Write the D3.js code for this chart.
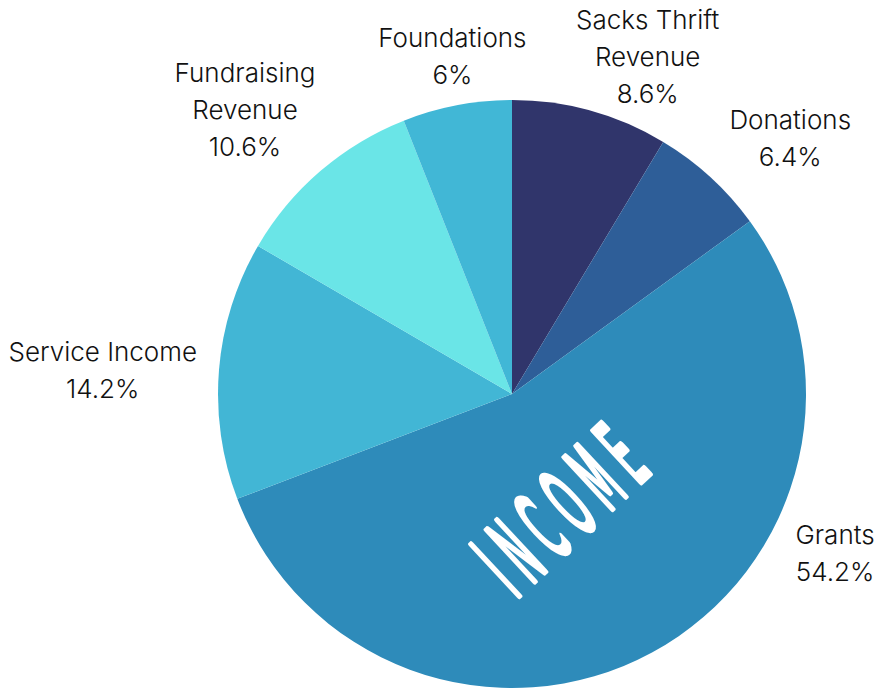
<!DOCTYPE html>
<html>
<head>
<meta charset="utf-8">
<script src="https://cdn.jsdelivr.net/npm/d3@7"></script>
<style>
  body { margin: 0; background: #ffffff; }
  svg { display: block; }
  .label { font-family: Inter, "Noto Sans", sans-serif; font-size: 26px; font-weight: 300; fill: #111111; }
</style>
</head>
<body>
<svg></svg>
<script>
// Income categories, clockwise from 12 o'clock
var categories = ["Sacks Thrift Revenue", "Donations", "Grants", "Service Income", "Fundraising Revenue", "Foundations"];
var values = [8.6, 6.4, 54.2, 14.2, 10.6, 6];
var valueLabels = ["8.6%", "6.4%", "54.2%", "14.2%", "10.6%", "6%"];
var labelLines = [["Sacks Thrift", "Revenue"], ["Donations"], ["Grants"], ["Service Income"], ["Fundraising", "Revenue"], ["Foundations"]];
var colors = ["#30356b", "#2e5e98", "#2e8bba", "#42b6d5", "#6ae5e7", "#41b7d6"];

var width = 883;
var height = 691;
var cx = 512, cy = 394, radius = 294;
var lineHeight = 37;

// label placement around the pie: angle (deg, clockwise from top) and distance of the box centre
var labelPlacement = [
  {angle: 21.9, dist: 364},
  {angle: 47.4, dist: 378},
  {angle: 116.2, dist: 360},
  {angle: 273.4, dist: 410},
  {angle: 316.8, dist: 390},
  {angle: 350, dist: 343}
];

var svg = d3.select("svg")
  .attr("width", width)
  .attr("height", height);

var pie = d3.pie().sort(null).value(function(d) { return d; });
var arc = d3.arc().innerRadius(0).outerRadius(radius);
var arcs = pie(values);

var g = svg.append("g").attr("transform", "translate(" + cx + "," + cy + ")");

g.selectAll("path")
  .data(arcs)
  .enter()
  .append("path")
    .attr("d", arc)
    .attr("fill", function(d, i) { return colors[i]; });

// Big rotated title inside the Grants slice
svg.append("text")
  .attr("transform", "translate(564,505) rotate(-43) scale(1,2.75)")
  .attr("text-anchor", "middle")
  .attr("y", 13)
  .attr("font-family", "'Liberation Sans Narrow', 'DejaVu Sans Condensed', sans-serif")
  .attr("font-size", 35)
  .attr("letter-spacing", 12)
  .attr("fill", "#ffffff")
  .attr("stroke", "#ffffff")
  .attr("stroke-width", 2.2)
  .attr("stroke-linejoin", "round")
  .text("INCOME");

arcs.forEach(function(d, i) {
  var lines = labelLines[i].concat([valueLabels[i]]);
  var t = svg.append("text").attr("class", "label").attr("text-anchor", "middle");
  lines.forEach(function(line, j) {
    t.append("tspan").attr("x", 0).attr("y", j * lineHeight).text(line);
  });
  var bb = t.node().getBBox();
  var p = labelPlacement[i];
  var a = p.angle * Math.PI / 180;
  var bx = cx + p.dist * Math.sin(a), by = cy - p.dist * Math.cos(a);
  // shift so the box centre lands on (bx, by)
  var ox = bx - (bb.x + bb.width / 2), oy = by - (bb.y + bb.height / 2);
  t.attr("transform", "translate(" + ox + "," + oy + ")");
});
</script>
</body>
</html>
